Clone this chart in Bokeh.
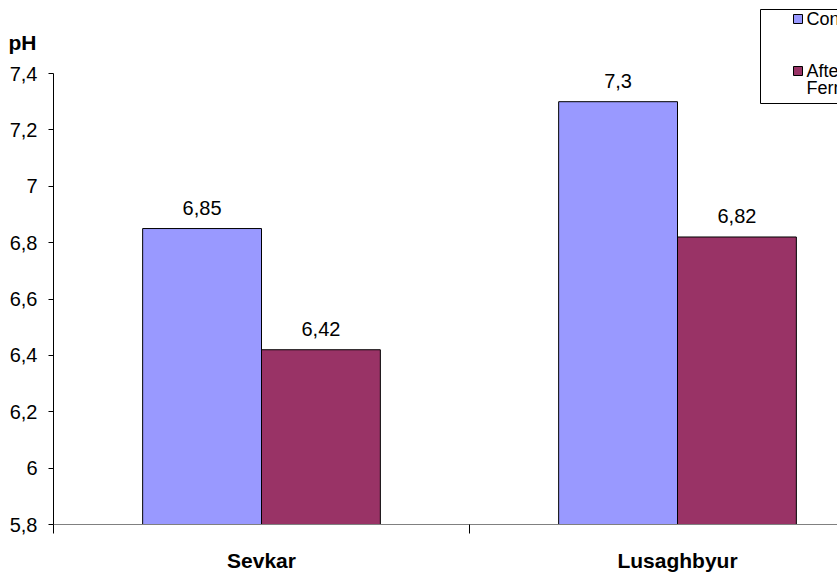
from bokeh.plotting import figure
from bokeh.models import (Range1d, FixedTicker, LinearAxis, LabelSet,
                          ColumnDataSource)
from bokeh.core.properties import value
from bokeh.embed import file_html
from bokeh.resources import INLINE

# --- data -------------------------------------------------------------
sites = ["Sevkar", "Lusaghbyur"]
control = [6.85, 7.3]
after = [6.42, 6.82]
series_labels = ["Control", "After Fermentation"]
y_ticks = [5.8, 6.0, 6.2, 6.4, 6.6, 6.8, 7.0, 7.2, 7.4]
y_tick_labels = ["5,8", "6", "6,2", "6,4", "6,6", "6,8", "7", "7,2", "7,4"]
y_title = "pH"

CONTROL_COLOR = "#9999FF"
AFTER_COLOR = "#993366"
FONT = "Liberation Sans"

# --- layout geometry (pixels) ------------------------------------------
W, H = 837, 577
LEFT, BOTTOM = 53, 53
CAT_PX = 416.0                      # width of one category slot
Y_MIN, Y_MAX = y_ticks[0], y_ticks[-1]
PX_PER_UNIT = (524 - 73) / (Y_MAX - Y_MIN)

frame_w = W - LEFT
frame_h = H - BOTTOM
x_end = frame_w / CAT_PX
y_end = Y_MIN + frame_h / PX_PER_UNIT


def sx_to_x(px):
    return (px - LEFT) / CAT_PX


def sy_to_y(py):
    return Y_MIN + (frame_h - py) / PX_PER_UNIT


p = figure(width=W, height=H, output_backend="svg", toolbar_location=None,
           x_range=Range1d(0, x_end), y_range=Range1d(Y_MIN, y_end),
           min_border_left=LEFT, min_border_right=0, min_border_top=0,
           min_border_bottom=BOTTOM)
p.outline_line_color = None
p.grid.visible = False
p.background_fill_color = "white"
p.border_fill_color = "white"

# --- bars ------------------------------------------------------------
bar_w = 1 / 3.5                      # two bars + 150% gap per category
centers = [i + 0.5 for i in range(len(sites))]
ctrl_x = [c - bar_w / 2 for c in centers]
aft_x = [c + bar_w / 2 for c in centers]

src_c = ColumnDataSource(dict(x=ctrl_x, top=control,
                              lab=[str(v).replace(".", ",") for v in control]))
src_a = ColumnDataSource(dict(x=aft_x, top=after,
                              lab=[str(v).replace(".", ",") for v in after]))

p.vbar(x="x", top="top", bottom=Y_MIN, width=bar_w, source=src_c,
       fill_color=CONTROL_COLOR, line_color="black", line_width=1)
p.vbar(x="x", top="top", bottom=Y_MIN, width=bar_w, source=src_a,
       fill_color=AFTER_COLOR, line_color="black", line_width=1)

for src in (src_c, src_a):
    p.add_layout(LabelSet(x="x", y="top", text="lab", source=src,
                          text_align="center", text_baseline="alphabetic",
                          y_offset=14, text_font=value(FONT),
                          text_font_size="20px", text_color="black"))

# --- axes ------------------------------------------------------------
yax = p.yaxis[0]
yax.bounds = (Y_MIN, Y_MAX)
yax.ticker = FixedTicker(ticks=y_ticks, minor_ticks=[])
yax.major_label_overrides = dict(zip(y_ticks, y_tick_labels))
yax.axis_line_color = "black"
yax.major_tick_line_color = "black"
yax.major_tick_out = 5
yax.major_tick_in = 0
yax.major_label_standoff = 11
yax.major_label_text_font = FONT
yax.major_label_text_font_size = "20px"
yax.major_label_text_color = "black"

xax = p.xaxis[0]
xax.bounds = (0, x_end)
xax.ticker = FixedTicker(ticks=centers, minor_ticks=list(range(len(sites))))
xax.major_label_overrides = dict(zip(centers, sites))
xax.axis_line_color = "#808080"
xax.major_tick_out = 0
xax.major_tick_in = 0
xax.minor_tick_out = 9
xax.minor_tick_in = 0
xax.minor_tick_line_color = "black"
xax.major_label_standoff = 15
xax.major_label_text_font = FONT
xax.major_label_text_font_style = "bold"
xax.major_label_text_font_size = "21px"
xax.major_label_text_color = "black"

# the "pH" title: a bare outer axis with a single labelled tick placed
# above the 7,4 tick; the negative standoff tucks it over the tick labels
title_pos = sy_to_y(42)
title_axis = LinearAxis(
    ticker=FixedTicker(ticks=[title_pos], minor_ticks=[]),
    major_label_overrides={title_pos: y_title},
    axis_line_color=None, major_tick_line_color=None,
    minor_tick_line_color=None, major_tick_out=0, major_tick_in=0,
    major_label_standoff=-30, major_label_text_font=FONT,
    major_label_text_font_style="bold", major_label_text_font_size="21px",
    major_label_text_color="black")
p.add_layout(title_axis, "left")

# --- legend (box runs past the right edge of the plot) -----------------
p.quad(left=sx_to_x(760), right=sx_to_x(1000), top=sy_to_y(9),
       bottom=sy_to_y(103), fill_color="white", line_color="black",
       line_width=1)
p.scatter(x=[sx_to_x(797.5)] * 2, y=[sy_to_y(18.5), sy_to_y(70.5)],
          marker="square", size=9, fill_color=[CONTROL_COLOR, AFTER_COLOR],
          line_color="black", line_width=1)
legend_lines = [series_labels[0]] + series_labels[1].split(" ")
p.text(x=[sx_to_x(806)] * 3,
       y=[sy_to_y(18.5), sy_to_y(70.5), sy_to_y(87)],
       text=legend_lines, text_baseline="middle", text_align="left",
       text_font=value(FONT), text_font_size="18px", text_color="black")

open("out.html", "w").write(file_html(p, INLINE))
